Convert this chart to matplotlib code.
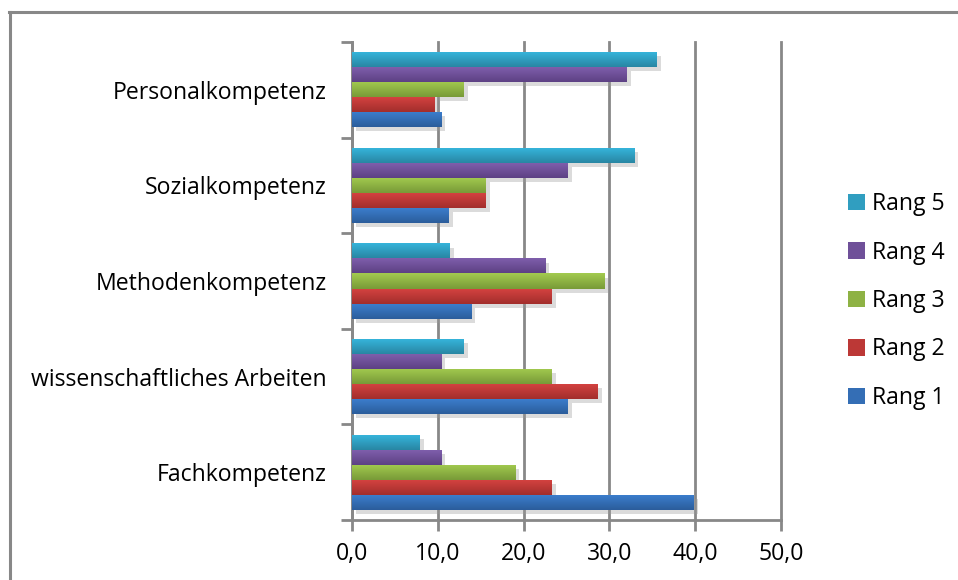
import numpy as np
import matplotlib
matplotlib.use("Agg")
import matplotlib.pyplot as plt
from matplotlib.colors import LinearSegmentedColormap
from matplotlib.lines import Line2D
from matplotlib import patheffects as pe
from matplotlib.ticker import FuncFormatter, FixedLocator

plt.rcParams["font.family"] = ["Open Sans", "DejaVu Sans"]

# Kompetenzbereiche, von unten nach oben
categories = ["Fachkompetenz", "wissenschaftliches Arbeiten", "Methodenkompetenz",
              "Sozialkompetenz", "Personalkompetenz"]
series = ["Rang 1", "Rang 2", "Rang 3", "Rang 4", "Rang 5"]

# Anteile in Prozent je Rang
rang1 = [39.8, 25.1, 13.9, 11.3, 10.4]
rang2 = [23.3, 28.6, 23.3, 15.6, 9.6]
rang3 = [19.0, 23.3, 29.4, 15.6, 13.0]
rang4 = [10.4, 10.4, 22.5, 25.1, 32.0]
rang5 = [7.9, 13.0, 11.4, 32.9, 35.5]
values = [rang1, rang2, rang3, rang4, rang5]

x_ticks = [0, 10, 20, 30, 40, 50]

# (hell oben, dunkel unten) wie Office-Verlauf
grad = [("#3c7fcf", "#2b5d9b"),
        ("#d64341", "#a22e2c"),
        ("#a3cb4f", "#789a38"),
        ("#8160ae", "#5d4184"),
        ("#37b7de", "#2886a3")]
grey = "#888888"
fs = 16.6

fig = plt.figure(figsize=(9.58, 5.80), dpi=100)
ax = fig.add_axes([352 / 958, 1 - 520 / 580, (781 - 352) / 958, (520 - 42) / 580])

y = np.arange(len(categories))
h = 0.157
handles = []
for k, (vals, (top, bot)) in enumerate(zip(values, grad)):
    mid = matplotlib.colors.to_hex(
        (np.array(matplotlib.colors.to_rgb(top)) + np.array(matplotlib.colors.to_rgb(bot))) / 2)
    bars = ax.barh(y + (k - 2) * h, vals, height=h, color=mid, zorder=3,
                   label=series[k])
    cmap = LinearSegmentedColormap.from_list("g%d" % k, [bot, top])
    for b in bars:
        b.set_path_effects([pe.SimplePatchShadow(offset=(3, -3), shadow_rgbFace="#9a9a9a",
                                                 alpha=0.35), pe.Normal()])
        x0, y0, w, hh = b.get_x(), b.get_y(), b.get_width(), b.get_height()
        im = ax.imshow(np.linspace(0, 1, 64).reshape(-1, 1), cmap=cmap, aspect="auto",
                       origin="lower", extent=(x0, x0 + w, y0, y0 + hh), zorder=3.5)
        im.set_clip_path(b)
    handles.append(bars)

ax.set_xlim(0, 50)
ax.set_ylim(-0.5, len(categories) - 0.5)

ax.xaxis.set_major_locator(FixedLocator(x_ticks))
ax.xaxis.set_major_formatter(FuncFormatter(lambda v, p: f"{v:.1f}".replace(".", ",")))
ax.grid(axis="x", color=grey, linewidth=2, zorder=1)
for gl in ax.get_xgridlines():
    gl.set_clip_on(False)
ax.set_axisbelow(True)

ax.yaxis.set_major_locator(FixedLocator(np.arange(-0.5, len(categories), 1.0)))
ax.yaxis.set_major_formatter(FuncFormatter(lambda v, p: ""))
ax.yaxis.set_minor_locator(FixedLocator(y))
ax.set_yticks(y, categories, minor=True)

ax.tick_params(axis="x", direction="out", length=8, width=2, color=grey,
               labelsize=fs, pad=8)
ax.tick_params(axis="y", which="major", direction="out", length=8, width=2, color=grey)
ax.tick_params(axis="y", which="minor", length=0, labelsize=fs, pad=18)

for s in ("top", "right"):
    ax.spines[s].set_visible(False)
for s in ("left", "bottom"):
    ax.spines[s].set_color(grey)
    ax.spines[s].set_linewidth(2)

leg = fig.legend(handles[::-1], series[::-1], loc="center left",
                 bbox_to_anchor=(839 / 958, 1 - 301 / 580), frameon=False,
                 fontsize=fs, handlelength=0.72, handleheight=0.72, handletextpad=0.3,
                 labelspacing=1.06, borderaxespad=0)
for p in leg.get_patches():
    p.set_path_effects([])

# Rahmen des Diagrammbereichs
fig.add_artist(Line2D([9 / 958, 1.0], [1 - 12 / 580] * 2, color=grey, linewidth=2.2,
                      transform=fig.transFigure))
fig.add_artist(Line2D([10 / 958] * 2, [0.0, 1 - 12 / 580], color=grey, linewidth=2.2,
                      transform=fig.transFigure))

fig.savefig("out.png", dpi=100)
